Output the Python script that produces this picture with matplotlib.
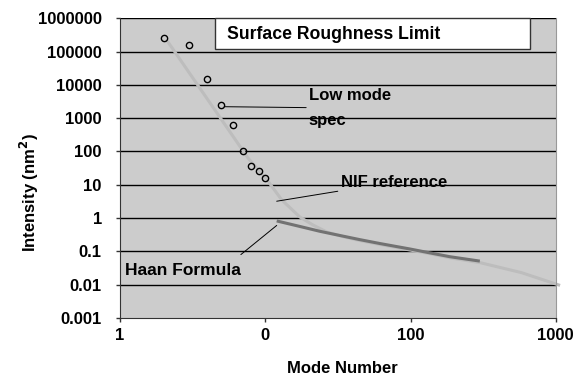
import numpy as np
import matplotlib.pyplot as plt
from matplotlib.patches import Rectangle

plt.rcParams['font.family'] = ['Liberation Sans', 'DejaVu Sans']
plt.rcParams['font.weight'] = 'bold'

# data
low_mode_x = [2, 3, 4, 5, 6, 7, 8, 9, 10]
low_mode_y = [2.6e5, 1.6e5, 1.5e4, 2500, 630, 100, 37, 26, 16]

nif_x = [2.1, 7.6, 10.3, 13, 17.3, 21.3, 26.6, 35, 45, 62, 99, 136, 187, 300, 580, 1070]
nif_y = [2.2e5, 64, 14, 3.5, 1.08, 0.62, 0.38, 0.27, 0.21, 0.16, 0.11, 0.085, 0.064,
         0.046, 0.023, 0.0095]

haan_x = [12, 17.3, 23.8, 32.6, 44.8, 61.5, 99, 136, 187, 300]
haan_y = [0.82, 0.56, 0.40, 0.30, 0.225, 0.172, 0.118, 0.09, 0.069, 0.051]

x_ticks = [1, 10, 100, 1000]
x_labels = ['1', '0', '100', '1000']
y_ticks = [1e-3, 1e-2, 1e-1, 1, 10, 100, 1e3, 1e4, 1e5, 1e6]
y_labels = ['0.001', '0.01', '0.1', '1', '10', '100', '1000', '10000', '100000', '1000000']

fig = plt.figure(figsize=(5.82, 3.79), dpi=100)
ax = fig.add_axes([0.206, 0.161, 0.749, 0.791])
ax.set_facecolor('#cccccc')

ax.set_xscale('log')
ax.set_yscale('log')
ax.set_xlim(1, 1000)
ax.set_ylim(1e-3, 1e6)

# horizontal gridlines
for v in y_ticks[1:]:
    ax.axhline(v, color='black', lw=1, zorder=1)

ax.plot(nif_x, nif_y, color='#bdbdbd', lw=2.2, zorder=2, clip_on=False,
        solid_capstyle='butt')
ax.plot(haan_x, haan_y, color='#727272', lw=2.2, zorder=3, solid_capstyle='butt')
ax.plot(low_mode_x, low_mode_y, 'o', ms=4.5, mfc='none', mec='black', mew=1, zorder=4)

ax.set_xticks(x_ticks)
ax.set_xticklabels(x_labels)
ax.set_yticks(y_ticks)
ax.set_yticklabels(y_labels)
ax.minorticks_off()
ax.tick_params(axis='both', labelsize=12, length=3, width=1, color='#333333')
ax.tick_params(axis='y', pad=10)
ax.tick_params(axis='x', pad=4)

ax.spines['top'].set_visible(False)
ax.spines['right'].set_color('#999999')
ax.spines['left'].set_color('#333333')
ax.spines['bottom'].set_color('#333333')

fig.text(0.588, 0.029, 'Mode Number', fontsize=12, fontweight='bold',
         ha='center', va='center')
fig.text(0.050, 0.493, 'Intensity (nm$^\\mathbf{2}$)', fontsize=12, fontweight='bold',
         ha='center', va='center', rotation=90)

# title box
ax.add_patch(Rectangle((0.218, 0.898), 0.722, 0.102, transform=ax.transAxes,
                       fc='white', ec='#333333', lw=1, zorder=5, clip_on=False))
ax.text(0.245, 0.946, 'Surface Roughness Limit', transform=ax.transAxes, fontsize=12.7,
        fontweight='bold', va='center', ha='left', zorder=6)

# annotations
ax.annotate('Low mode\n\nspec', xy=(5.3, 2200), xytext=(20, 2000),
            fontsize=12, fontweight='bold', va='center', ha='left', linespacing=0.8,
            arrowprops=dict(arrowstyle='-', color='black', lw=0.7, shrinkA=0, shrinkB=0))
ax.annotate('NIF reference', xy=(12, 3.2), xytext=(33, 12),
            fontsize=12, fontweight='bold', va='center', ha='left',
            arrowprops=dict(arrowstyle='-', color='black', lw=0.7, shrinkA=0, shrinkB=0))
ax.annotate('', xy=(12, 0.6), xytext=(6.8, 0.08),
            arrowprops=dict(arrowstyle='-', color='black', lw=0.7, shrinkA=0, shrinkB=0))
ax.text(1.08, 0.027, 'Haan Formula', fontsize=12.5, fontweight='bold', va='center', ha='left')

fig.savefig('out.png', dpi=100)
